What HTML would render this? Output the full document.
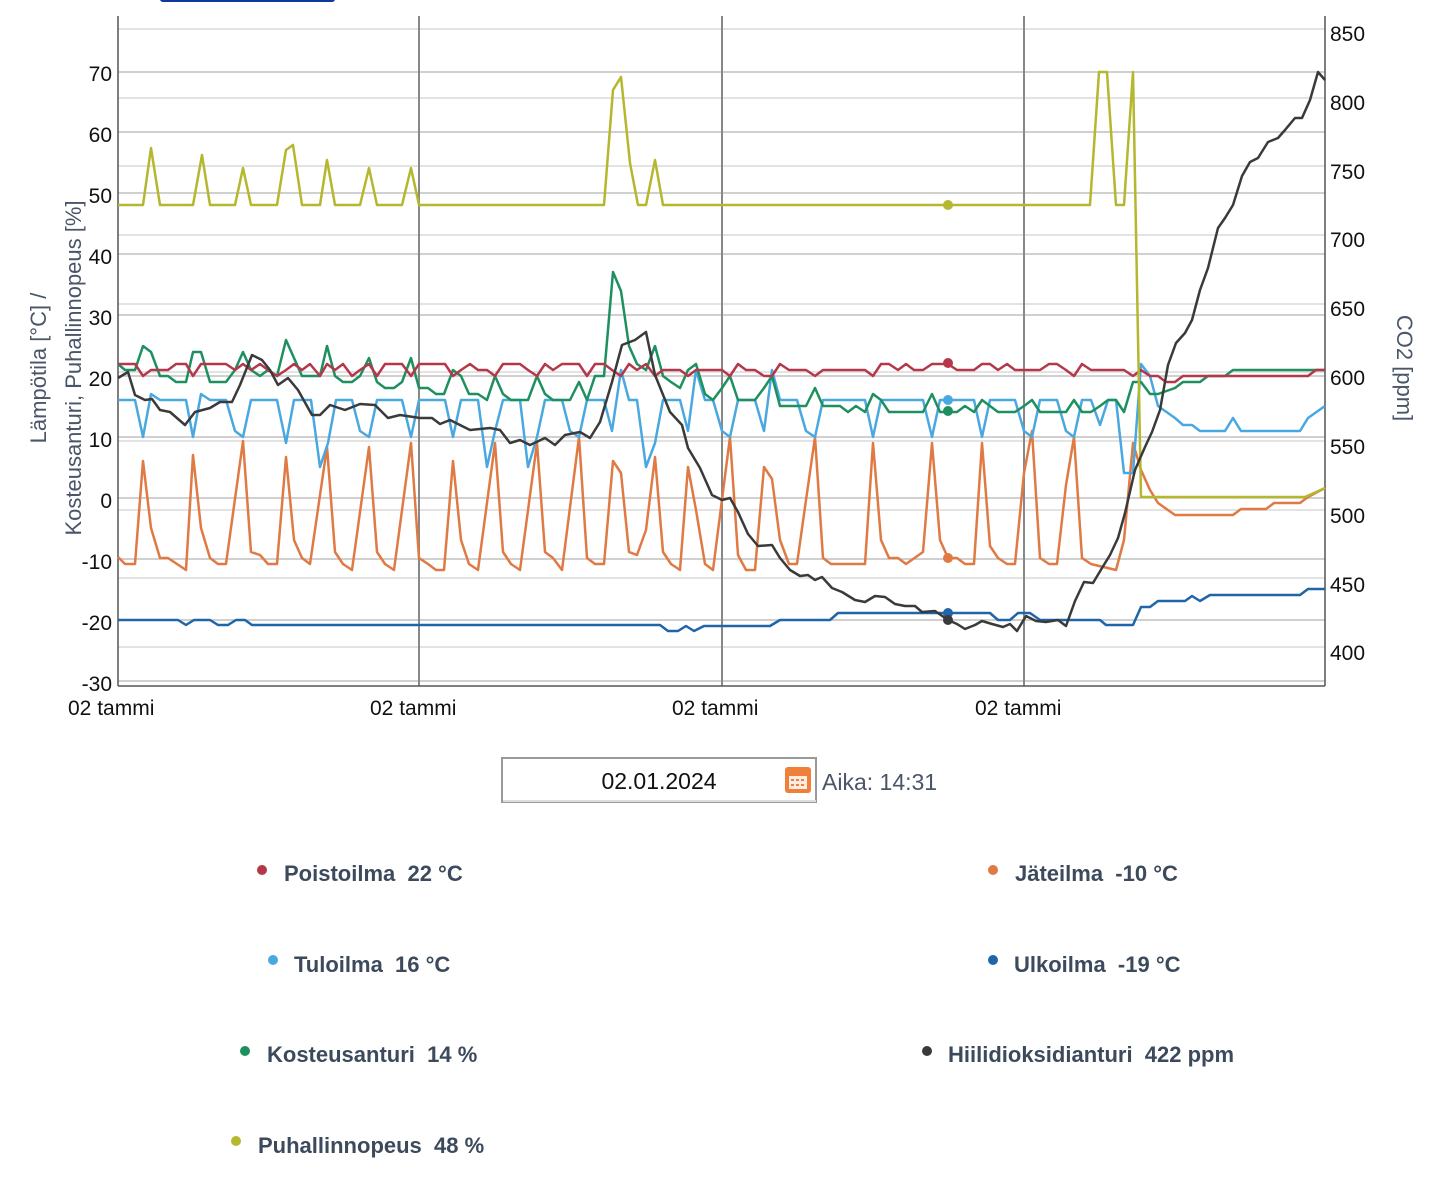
<!DOCTYPE html>
<html><head><meta charset="utf-8"><style>
body{margin:0;background:#fff;width:1435px;height:1179px;overflow:hidden;font-family:"Liberation Sans",sans-serif}
svg{position:absolute;left:0;top:0}
.t{font-family:"Liberation Sans",sans-serif;font-size:21px;fill:#111}
.lg{position:absolute;font-family:"Liberation Sans",sans-serif;font-weight:bold;font-size:22px;color:#3c4a5c;white-space:pre}
.dot{position:absolute;width:10px;height:10px;border-radius:50%}
</style></head><body>
<svg width="1435" height="1179" viewBox="0 0 1435 1179">
<rect x="160" y="-6" width="175" height="8" rx="3" fill="#0b3a9a"/>
<g stroke="#e3e3e3" stroke-width="2">
<line x1="118" x2="1325" y1="29" y2="29"/><line x1="118" x2="1325" y1="98" y2="98"/><line x1="118" x2="1325" y1="166" y2="166"/><line x1="118" x2="1325" y1="235" y2="235"/><line x1="118" x2="1325" y1="304" y2="304"/><line x1="118" x2="1325" y1="372" y2="372"/><line x1="118" x2="1325" y1="441" y2="441"/><line x1="118" x2="1325" y1="510" y2="510"/><line x1="118" x2="1325" y1="578" y2="578"/><line x1="118" x2="1325" y1="647" y2="647"/>
</g>
<g stroke="#b4b4b4" stroke-width="1.3">
<line x1="118" x2="1325" y1="72" y2="72"/><line x1="118" x2="1325" y1="132" y2="132"/><line x1="118" x2="1325" y1="193" y2="193"/><line x1="118" x2="1325" y1="254" y2="254"/><line x1="118" x2="1325" y1="315" y2="315"/><line x1="118" x2="1325" y1="376" y2="376"/><line x1="118" x2="1325" y1="437" y2="437"/><line x1="118" x2="1325" y1="498" y2="498"/><line x1="118" x2="1325" y1="559" y2="559"/><line x1="118" x2="1325" y1="620" y2="620"/><line x1="118" x2="1325" y1="681" y2="681"/>
</g>
<g stroke="#888" stroke-width="2"><line x1="419" x2="419" y1="16" y2="686"/><line x1="722" x2="722" y1="16" y2="686"/><line x1="1024" x2="1024" y1="16" y2="686"/></g>
<g stroke="#555" stroke-width="1.5"><line x1="118" x2="118" y1="16" y2="686"/><line x1="1325" x2="1325" y1="16" y2="686"/><line x1="118" x2="1325" y1="686" y2="686"/></g>
<g class="t" text-anchor="end">
<text x="112" y="81">70</text><text x="112" y="142">60</text><text x="112" y="203">50</text><text x="112" y="264">40</text><text x="112" y="325">30</text><text x="112" y="386">20</text><text x="112" y="447">10</text><text x="112" y="508">0</text><text x="112" y="569">-10</text><text x="112" y="630">-20</text><text x="112" y="691">-30</text>
</g>
<g class="t">
<text x="1330" y="41">850</text><text x="1330" y="110">800</text><text x="1330" y="179">750</text><text x="1330" y="247">700</text><text x="1330" y="316">650</text><text x="1330" y="385">600</text><text x="1330" y="454">550</text><text x="1330" y="523">500</text><text x="1330" y="592">450</text><text x="1330" y="660">400</text>
<text x="68" y="715">02 tammi</text><text x="370" y="715">02 tammi</text><text x="672" y="715">02 tammi</text><text x="975" y="715">02 tammi</text>
</g>
<g font-family="Liberation Sans,sans-serif" font-size="22" fill="#4a5568">
<text transform="translate(46,368) rotate(-90)" text-anchor="middle">Lämpötila [°C] /</text>
<text transform="translate(81,368) rotate(-90)" text-anchor="middle">Kosteusanturi, Puhallinnopeus [%]</text>
<text transform="translate(1397,368) rotate(90)" text-anchor="middle">CO2 [ppm]</text>
</g>
<g fill="none" stroke-width="2.5" stroke-linejoin="round">
<polyline stroke="#1f65a8" points="118,620 178,620 186,625 194,620 210,620 218,625 228,625 236,620 245,620 252,625 660,625 668,631 678,631 686,626 694,631 704,626 770,626 780,620 830,620 838,613 990,613 998,620 1010,620 1018,613 1030,613 1040,620 1100,620 1106,625 1133,625 1141,607 1150,607 1158,601 1185,601 1192,596 1200,601 1210,595 1300,595 1308,589 1325,589"/>
<polyline stroke="#e07a45" points="118,557 125,564 135,564 143,461 151,528 160,558 168,558 186,570 193,455 201,528 210,558 218,564 226,564 243,441 251,552 260,555 268,564 277,564 286,457 294,540 302,558 310,564 327,447 335,552 343,564 352,570 369,447 377,552 385,564 394,570 411,443 419,558 428,564 436,570 444,570 453,461 461,540 469,564 478,570 495,443 503,552 511,564 520,570 537,443 545,552 553,558 562,570 579,437 587,558 595,564 604,564 613,461 621,473 629,552 637,555 646,530 655,457 663,552 671,564 680,570 688,467 696,510 705,564 713,570 730,437 738,555 746,570 755,570 764,467 772,479 780,540 789,564 797,564 806,500 815,437 823,558 831,564 865,564 873,443 881,540 889,558 898,558 906,564 923,552 932,443 940,540 948,558 957,558 965,564 974,564 982,443 990,546 998,558 1007,564 1015,564 1024,473 1032,431 1040,558 1049,564 1057,564 1066,485 1074,437 1082,558 1091,564 1116,570 1124,540 1133,443 1141,470 1150,490 1158,503 1175,515 1233,515 1241,509 1266,509 1274,503 1300,503 1308,497 1325,488"/>
<polyline stroke="#4aa8e0" points="118,400 135,400 143,437 151,394 160,400 186,400 193,437 201,394 210,400 226,400 235,431 243,437 251,400 277,400 286,443 294,400 311,400 320,467 328,443 336,400 352,400 360,431 369,437 377,400 402,400 411,437 419,400 445,400 453,437 461,400 478,400 487,467 495,431 503,400 520,400 528,467 537,437 545,400 562,400 570,431 579,437 587,400 604,400 612,431 621,370 629,400 637,400 646,467 655,443 663,400 680,400 688,431 696,370 705,400 713,400 722,431 730,437 738,400 755,400 764,431 772,370 780,400 797,400 806,431 815,437 823,400 865,400 873,437 881,400 923,400 932,437 940,400 974,400 982,437 990,400 1015,400 1024,431 1032,437 1040,400 1057,400 1066,431 1074,437 1082,400 1091,400 1100,425 1108,400 1116,400 1124,473 1133,473 1141,364 1150,376 1158,406 1175,418 1183,425 1192,425 1200,431 1225,431 1233,418 1241,431 1300,431 1308,418 1325,406"/>
<polyline stroke="#1e9060" points="118,364 125,370 135,370 143,346 151,352 160,376 168,376 176,382 186,382 193,352 201,352 210,382 226,382 235,370 243,352 251,370 260,376 268,370 277,376 286,340 294,358 302,376 310,376 320,376 327,346 335,376 343,382 352,382 360,376 369,358 377,382 385,388 394,388 402,382 411,358 419,388 428,388 436,394 444,394 453,370 461,376 469,394 478,394 487,400 495,376 503,394 511,400 528,400 537,376 545,394 553,400 570,400 579,382 587,400 595,376 604,376 613,272 621,291 629,346 637,364 646,370 655,346 663,376 671,382 680,388 688,370 696,364 705,394 713,400 722,388 730,376 738,400 755,400 764,388 772,376 780,406 806,406 815,388 823,406 840,406 848,412 856,406 865,412 873,394 881,400 889,412 923,412 932,394 940,412 957,412 965,406 974,412 982,400 990,406 998,412 1015,412 1024,406 1032,400 1040,412 1066,412 1074,400 1082,412 1091,412 1100,406 1108,400 1116,400 1124,412 1133,382 1141,382 1150,394 1158,394 1175,388 1183,382 1200,382 1208,376 1225,376 1233,370 1325,370"/>
<polyline stroke="#b5384a" points="118,364 135,364 143,376 151,370 168,370 176,364 186,364 193,376 201,364 226,364 235,370 243,364 251,370 260,364 268,370 277,376 286,370 294,364 302,370 310,364 320,376 327,364 335,370 343,364 352,376 360,370 369,364 377,376 385,364 402,364 411,376 419,364 445,364 453,376 461,370 470,364 478,370 487,370 495,376 503,364 520,364 528,370 537,376 545,364 553,370 562,364 579,364 587,376 595,364 604,364 612,370 621,376 629,364 637,370 646,364 655,376 663,370 680,370 688,376 696,370 722,370 730,376 738,364 746,370 755,370 764,376 772,376 780,364 789,370 806,370 815,376 823,370 865,370 873,376 881,364 889,364 898,370 906,364 914,370 923,370 932,364 940,364 948,364 957,370 974,370 982,364 990,364 998,370 1007,364 1015,370 1040,370 1049,364 1057,364 1066,370 1074,376 1082,364 1091,370 1124,370 1133,376 1141,370 1150,376 1158,376 1166,382 1175,382 1183,376 1308,376 1316,370 1325,370"/>
<polyline stroke="#b5b72e" points="118,205 143,205 151,148 160,205 193,205 202,155 210,205 235,205 243,168 251,205 277,205 286,150 293,145 302,205 320,205 327,160 335,205 360,205 369,168 377,205 402,205 411,168 419,205 604,205 613,90 621,77 630,163 638,205 646,205 655,160 663,205 1090,205 1099,72 1107,72 1116,205 1124,205 1133,72 1141,497 1305,497 1325,488"/>
<polyline stroke="#3a3a3a" points="118,378 128,372 135,395 145,400 152,399 160,410 170,412 185,425 195,412 210,408 220,402 232,402 240,385 252,355 262,360 270,370 278,385 288,378 298,390 312,415 320,415 330,405 345,410 360,404 375,405 388,418 400,415 420,418 432,418 440,424 450,420 470,430 490,428 500,430 510,443 520,440 530,445 545,438 555,445 565,435 580,432 590,438 600,422 612,382 622,345 635,340 646,332 655,375 670,412 682,425 688,448 700,468 712,495 722,500 730,498 738,512 748,534 758,546 772,545 780,558 790,570 800,576 808,575 815,580 822,577 832,588 842,592 855,600 865,602 875,596 885,597 895,604 905,606 915,606 922,612 935,611 948,620 957,624 965,629 975,625 982,621 992,624 1003,627 1010,624 1017,631 1026,616 1036,621 1046,622 1058,620 1066,626 1075,601 1084,582 1093,583 1102,568 1110,555 1118,538 1125,513 1135,470 1145,447 1152,432 1160,410 1168,365 1176,343 1185,333 1192,320 1200,290 1208,268 1218,228 1225,218 1233,205 1242,176 1250,162 1258,158 1268,142 1278,138 1285,130 1295,118 1302,118 1310,100 1318,72 1325,80"/>
</g>
<circle cx="948" cy="205" r="5" fill="#b5b72e"/>
<circle cx="948" cy="363" r="5" fill="#b5384a"/>
<circle cx="948" cy="400" r="5" fill="#4aa8e0"/>
<circle cx="948" cy="411" r="5" fill="#1e9060"/>
<circle cx="948" cy="558" r="5" fill="#e07a45"/>
<circle cx="948" cy="613" r="5" fill="#1f65a8"/>
<circle cx="948" cy="620" r="5" fill="#3a3a3a"/>
<rect x="502" y="758" width="314" height="44" fill="#fff" stroke="#999" stroke-width="2"/>
<line x1="503" y1="801" x2="816" y2="801" stroke="#ddd" stroke-width="2"/>
<text x="659" y="789" text-anchor="middle" font-family="Liberation Sans,sans-serif" font-size="23" fill="#111">02.01.2024</text>
<rect x="785" y="767" width="26" height="26" rx="3" fill="#f07f3a"/>
<rect x="789" y="776" width="18" height="13" fill="#fff" opacity="0.85"/>
<g fill="#f07f3a"><rect x="791" y="779" width="3" height="2"/><rect x="796" y="779" width="3" height="2"/><rect x="801" y="779" width="3" height="2"/><rect x="791" y="784" width="3" height="2"/><rect x="796" y="784" width="3" height="2"/><rect x="801" y="784" width="3" height="2"/></g>
<text x="822" y="790" font-family="Liberation Sans,sans-serif" font-size="23" fill="#4a5568">Aika: 14:31</text>
</svg>
<div class="dot" style="left:257px;top:865px;background:#b5384a"></div><div class="lg" style="left:284px;top:861px">Poistoilma  22 °C</div>
<div class="dot" style="left:988px;top:865px;background:#e07a45"></div><div class="lg" style="left:1015px;top:861px">Jäteilma  -10 °C</div>
<div class="dot" style="left:268px;top:955px;background:#4aa8e0"></div><div class="lg" style="left:294px;top:952px">Tuloilma  16 °C</div>
<div class="dot" style="left:988px;top:955px;background:#1f65a8"></div><div class="lg" style="left:1014px;top:952px">Ulkoilma  -19 °C</div>
<div class="dot" style="left:240px;top:1046px;background:#1e9060"></div><div class="lg" style="left:267px;top:1042px">Kosteusanturi  14 %</div>
<div class="dot" style="left:922px;top:1046px;background:#3a3a3a"></div><div class="lg" style="left:948px;top:1042px">Hiilidioksidianturi  422 ppm</div>
<div class="dot" style="left:231px;top:1136px;background:#b5b72e"></div><div class="lg" style="left:258px;top:1133px">Puhallinnopeus  48 %</div>
</body></html>
